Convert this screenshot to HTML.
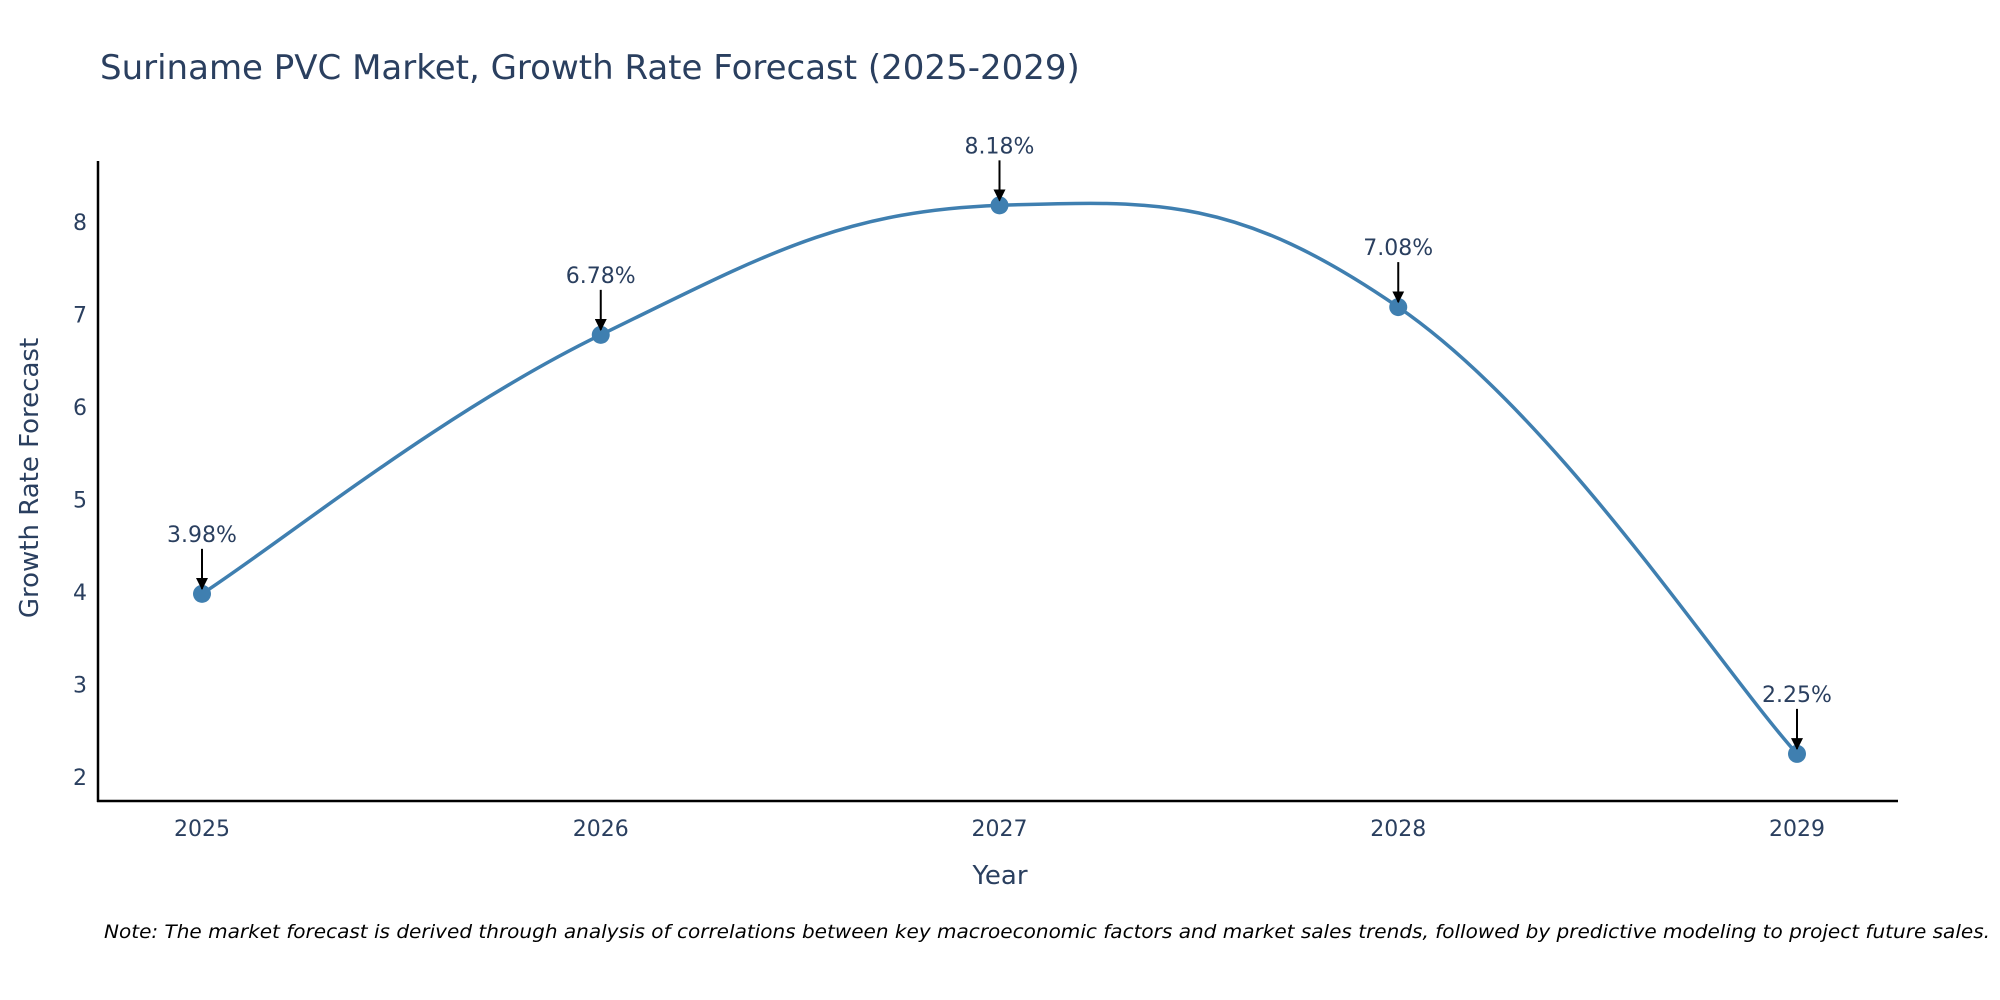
<!DOCTYPE html>
<html><head><meta charset="utf-8"><style>
body{margin:0;background:#fff;}
svg{display:block;font-family:"DejaVu Sans","Liberation Sans",sans-serif;}
</style></head><body>
<svg id="chart" width="2000" height="1000" viewBox="0 0 2000 1000" xmlns="http://www.w3.org/2000/svg">
<defs><marker id="arr" viewBox="0 0 10 10" refX="9" refY="5" markerWidth="6" markerHeight="6" markerUnits="strokeWidth" orient="auto"><path d="M0,0L10,5L0,10z" fill="#000"/></marker></defs>
<text x="100" y="79" font-size="34" fill="#2a3f5f">Suriname PVC Market, Growth Rate Forecast (2025-2029)</text>
<g id="yticks"></g><g id="xticks"></g>
<line x1="98" y1="161" x2="98" y2="802" stroke="#000" stroke-width="2.5"/>
<line x1="97" y1="801" x2="1898" y2="801" stroke="#000" stroke-width="2.5"/>
<path id="line" fill="none" stroke="#3f7fb0" stroke-width="3.5"/>
<g id="pts"></g><g id="ann"></g>
<text x="1000" y="884" font-size="26" fill="#2a3f5f" text-anchor="middle">Year</text>
<text transform="translate(38,478) rotate(-90)" font-size="26" fill="#2a3f5f" text-anchor="middle">Growth Rate Forecast</text>
<text x="1990" y="938" font-size="19" font-style="italic" fill="#000" text-anchor="end" textLength="1886" lengthAdjust="spacingAndGlyphs">Note: The market forecast is derived through analysis of correlations between key macroeconomic factors and market sales trends, followed by predictive modeling to project future sales.</text>
</svg>
<script>
const years=["2025","2026","2027","2028","2029"];
const values=[3.98,6.78,8.18,7.08,2.25];
const labels=["3.98%","6.78%","8.18%","7.08%","2.25%"];
const yTicks=[2,3,4,5,6,7,8];
const ns="http://www.w3.org/2000/svg";
const X=i=>202+i*(1797-202)/(years.length-1);
const Y=v=>777-(v-2)*(777-222)/6;
function mk(t,a,p){const e=document.createElementNS(ns,t);for(const k in a)e.setAttribute(k,a[k]);p.appendChild(e);return e;}
const yt=document.getElementById('yticks');
yTicks.forEach(v=>{const t=mk('text',{x:87,y:Y(v)+8,'font-size':22,fill:'#2a3f5f','text-anchor':'end'},yt);t.textContent=v;

});
const xt=document.getElementById('xticks');
years.forEach((y,i)=>{const t=mk('text',{x:X(i),y:836,'font-size':22,fill:'#2a3f5f','text-anchor':'middle'},xt);t.textContent=y;

});
const P=values.map((v,i)=>[X(i),Y(v)]);
let d=`M${P[0][0]},${P[0][1]}`;
const k=0.2;
for(let i=0;i<P.length-1;i++){const p0=P[Math.max(0,i-1)],p1=P[i],p2=P[i+1],p3=P[Math.min(P.length-1,i+2)];
const c1=[p1[0]+(p2[0]-p0[0])*k,p1[1]+(p2[1]-p0[1])*k],c2=[p2[0]-(p3[0]-p1[0])*k,p2[1]-(p3[1]-p1[1])*k];
d+=`C${c1[0]},${c1[1]} ${c2[0]},${c2[1]} ${p2[0]},${p2[1]}`;}
document.getElementById('line').setAttribute('d',d);
const pg=document.getElementById('pts'),ag=document.getElementById('ann');
P.forEach((p,i)=>{const c=mk('circle',{cx:p[0],cy:p[1],r:9,fill:'#3f7fb0'},pg);


const l=mk('line',{x1:p[0],y1:p[1]-45,x2:p[0],y2:p[1]-5,stroke:'#000','stroke-width':2,'marker-end':'url(#arr)'},ag);


const t=mk('text',{x:p[0],y:p[1]-52,'font-size':22,fill:'#2a3f5f','text-anchor':'middle'},ag);t.textContent=labels[i];

});
</script>
</body></html>
